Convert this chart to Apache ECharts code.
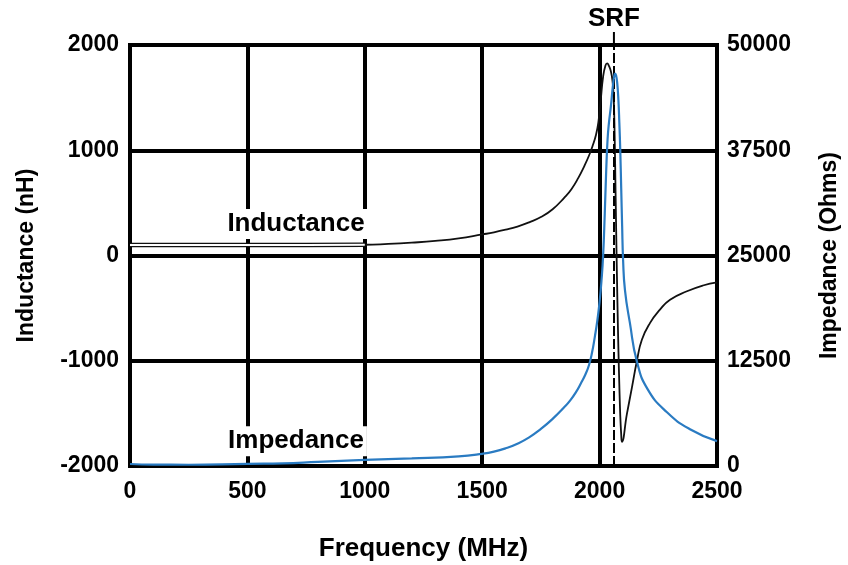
<!DOCTYPE html>
<html><head><meta charset="utf-8">
<script src="https://cdn.jsdelivr.net/npm/echarts@6/dist/echarts.min.js"></script>
<style>html,body{margin:0;padding:0;background:#fff}#c{width:848px;height:565px}</style>
</head><body><div id="c"></div>
<script>
// ---- data ----
const freqTicks = [0, 500, 1000, 1500, 2000, 2500];
const inductanceTicks = [-2000, -1000, 0, 1000, 2000];
const impedanceTicks = [0, 12500, 25000, 37500, 50000];

const inductanceFreq = [0, 250, 500, 750, 1000, 1100, 1200, 1300, 1400, 1500, 1550, 1600, 1650, 1700, 1750, 1800, 1850, 1880, 1910, 1935, 1955, 1970, 1985, 1995, 2005, 2015, 2025, 2032, 2040, 2048, 2055, 2060, 2064, 2068, 2072, 2076, 2080, 2084, 2088, 2092, 2095, 2116, 2138, 2159, 2180, 2215, 2257, 2300, 2372, 2440, 2500];
const inductanceNH = [100, 100, 100, 100, 102, 110, 122, 138, 162, 200, 220, 245, 275, 315, 365, 440, 550, 630, 740, 850, 950, 1040, 1150, 1270, 1480, 1700, 1805, 1825, 1800, 1750, 1660, 1500, 1150, 600, 50, -450, -880, -1230, -1520, -1700, -1770, -1510, -1250, -1000, -800, -640, -515, -420, -340, -285, -255];

const impedanceFreq = [0, 100, 250, 500, 650, 800, 1000, 1200, 1400, 1500, 1550, 1600, 1650, 1700, 1750, 1800, 1850, 1875, 1900, 1920, 1940, 1955, 1968, 1980, 1990, 2000, 2008, 2015, 2022, 2028, 2034, 2040, 2048, 2056, 2062, 2066, 2070, 2075, 2080, 2084, 2088, 2092, 2096, 2100, 2108, 2129, 2159, 2205, 2287, 2385, 2500];
const impedanceOhms = [240, 170, 150, 260, 300, 480, 720, 900, 1150, 1450, 1700, 2100, 2650, 3400, 4400, 5600, 7000, 7800, 8800, 9800, 10900, 12000, 13500, 15400, 17200, 19500, 22000, 25000, 30000, 35000, 38800, 40800, 42700, 45000, 46300, 46600, 46400, 45500, 43500, 40800, 37500, 33000, 28500, 24500, 20900, 17000, 12400, 9100, 6380, 4370, 2950];

const srfFreq = 2061;
const labelText = { inductance: 'Inductance', impedance: 'Impedance', srf: 'SRF' };
const inductanceLabelAt = [707, 300];
const impedanceLabelAt = [707, 2950];

// ---- chart ----
const zip = (a, b) => a.map((v, i) => [v, b[i]]);
const inductanceData = zip(inductanceFreq, inductanceNH);
const impedanceData = zip(impedanceFreq, impedanceOhms);
const flatPart = inductanceData.filter(d => d[0] <= 1000);

const FONT = 'Liberation Sans, Arial, sans-serif';
const chart = echarts.init(document.getElementById('c'), null, { renderer: 'canvas' });
const gridLine = { show: true, lineStyle: { color: '#000', width: 4 } };
const tickLabel = { color: '#000', fontFamily: FONT, fontWeight: 'bold', fontSize: 23, formatter: v => String(v) };
const nameStyle = { color: '#000', fontFamily: FONT, fontWeight: 'bold', fontSize: 23 };
const curveLabel = { show: true, position: 'inside', color: '#000', fontFamily: FONT, fontWeight: 'bold', fontSize: 26, backgroundColor: '#fff', padding: [2, 3] };

chart.setOption({
  animation: false,
  backgroundColor: '#fff',
  grid: { left: 130, right: 131, top: 45, bottom: 99, show: true, borderColor: '#000', borderWidth: 4, containLabel: false, outerBoundsMode: 'none' },
  xAxis: {
    type: 'value', min: freqTicks[0], max: freqTicks[freqTicks.length - 1], interval: freqTicks[1] - freqTicks[0],
    name: 'Frequency (MHz)', nameLocation: 'middle', nameGap: 70, nameTextStyle: Object.assign({}, nameStyle, { fontSize: 26 }),
    axisLine: { show: false }, axisTick: { show: false }, splitLine: gridLine,
    axisLabel: Object.assign({}, tickLabel, { margin: 14 })
  },
  yAxis: [{
    type: 'value', min: inductanceTicks[0], max: inductanceTicks[inductanceTicks.length - 1], interval: inductanceTicks[1] - inductanceTicks[0],
    name: 'Inductance (nH)', nameLocation: 'middle', nameGap: 92, nameRotate: 90, nameTextStyle: nameStyle,
    axisLine: { show: false }, axisTick: { show: false }, splitLine: gridLine,
    axisLabel: Object.assign({}, tickLabel, { margin: 11 })
  }, {
    type: 'value', position: 'right', min: impedanceTicks[0], max: impedanceTicks[impedanceTicks.length - 1], interval: impedanceTicks[1] - impedanceTicks[0],
    name: 'Impedance (Ohms)', nameLocation: 'middle', nameGap: 101, nameRotate: 90, nameTextStyle: nameStyle,
    axisLine: { show: false }, axisTick: { show: false }, splitLine: { show: false },
    axisLabel: Object.assign({}, tickLabel, { margin: 10 })
  }],
  series: [{
    name: 'Inductance', type: 'line', data: inductanceData, yAxisIndex: 0, showSymbol: false, symbol: 'none',
    smooth: 0.5, lineStyle: { color: '#111', width: 1.8 }, z: 3,
    markLine: {
      silent: true, symbol: 'none', label: { show: false },
      lineStyle: { color: '#000', width: 2, type: [10, 3] },
      data: [{ xAxis: srfFreq }]
    },
    markPoint: {
      symbol: 'rect', symbolSize: 0,
      label: Object.assign({}, curveLabel, { formatter: labelText.inductance }),
      data: [{ coord: inductanceLabelAt }]
    }
  }, {
    name: 'InductanceOutline', type: 'line', data: flatPart, yAxisIndex: 0, showSymbol: false, symbol: 'none',
    lineStyle: { color: '#111', width: 4.4 }, z: 3
  }, {
    name: 'InductanceCore', type: 'line', data: flatPart, yAxisIndex: 0, showSymbol: false, symbol: 'none',
    lineStyle: { color: '#fff', width: 2.0 }, z: 4
  }, {
    name: 'Impedance', type: 'line', data: impedanceData, yAxisIndex: 1, showSymbol: false, symbol: 'none',
    smooth: 0.5, lineStyle: { color: '#2a7bc2', width: 2.2 }, z: 5,
    markPoint: {
      symbol: 'rect', symbolSize: 0,
      label: Object.assign({}, curveLabel, { formatter: labelText.impedance }),
      data: [{ coord: impedanceLabelAt }]
    }
  }]
});

// SRF marker above the frame, positioned from data
const srfTop = chart.convertToPixel({ xAxisIndex: 0, yAxisIndex: 0 }, [srfFreq, inductanceTicks[inductanceTicks.length - 1]]);
chart.setOption({
  graphic: [{
    type: 'line', shape: { x1: srfTop[0], y1: srfTop[1], x2: srfTop[0], y2: srfTop[1] - 13 }, style: { stroke: '#000', lineWidth: 2 }
  }, {
    type: 'text', x: srfTop[0], y: srfTop[1] - 13, style: { text: labelText.srf, fill: '#000', font: 'bold 26px ' + FONT, textAlign: 'center', textVerticalAlign: 'bottom' }
  }]
});
</script></body></html>
